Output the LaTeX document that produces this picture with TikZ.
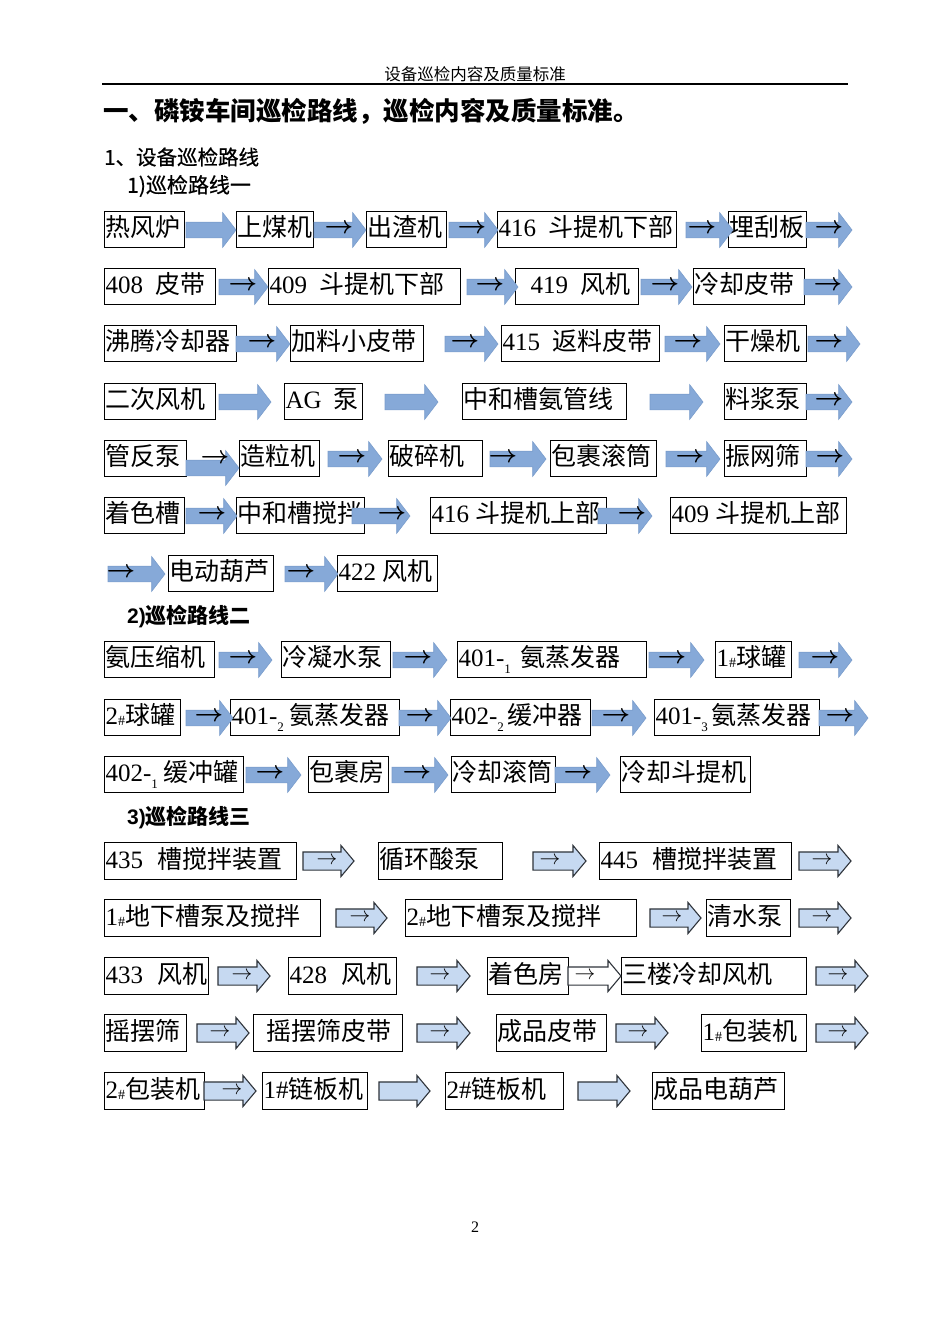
\documentclass[tikz,border=0pt]{standalone}
\usepackage{fontspec}
\setmainfont{Noto Sans CJK SC}
\newfontfamily\tnr{Liberation Serif}
\newfontfamily\ars{Liberation Sans}
\newfontfamily\cjkm[FakeBold=0.6]{Noto Sans CJK SC}
\usetikzlibrary{shapes.arrows}
\definecolor{aL}{HTML}{B7CFEE}
\definecolor{aD}{HTML}{86A9D8}
\definecolor{aE}{HTML}{7A9DCC}
\definecolor{bF}{HTML}{C6D9F1}
\definecolor{bE}{HTML}{2F343B}
\newcommand\nr[1]{{\tnr #1}}
\newcommand\sbn[1]{\raisebox{-7pt}{\fontsize{13}{13}\selectfont\tnr #1}}
\newcommand\shp{\raisebox{-1pt}{\fontsize{14}{14}\selectfont\tnr\#}}
\tikzset{
 bx/.style={draw=black, line width=0.9pt, fill=white, inner xsep=1.5pt, inner ysep=0pt, outer sep=0pt,
   font=\fontsize{25}{30}\selectfont, text height=19pt, text depth=5pt},
 arA/.style={single arrow, single arrow head extend=9.5pt, single arrow tip angle=105,
   inner xsep=0pt, inner ysep=7.5pt, outer sep=0pt, shading=axis, top color=aD, middle color=aL, bottom color=aD, draw=aE, line width=0.6pt},
 arB/.style={single arrow, single arrow head extend=6.5pt, single arrow tip angle=100,
   inner xsep=0pt, inner ysep=8.5pt, outer sep=0pt, fill=bF, draw=bE, line width=1.1pt},
 arW/.style={arB, fill=white},
 ra/.style={inner sep=0pt, font=\fontsize{25}{25}\selectfont\boldmath},
 rb/.style={inner sep=0pt, font=\fontsize{21}{21}\selectfont},
 hd/.style={anchor=west, inner sep=0pt},
}
\newcommand\bxx[6]{\pgfmathsetmacro\mytw{#4-#3-3}%
 \node[bx, minimum height=#1pt, anchor=west] (#2) at (#3,#5) {\makebox[\mytw pt][l]{#6}};}
\newcommand\arr[5]{\pgfmathsetmacro\myl{#4-#3}%
 \node[#1, minimum height=\myl pt, anchor=west] (#2) at (#3,#5) {};}
\newcommand\rt[4]{\node[#1] (#2) at (#3,#4) {$\rightarrow$};}
\begin{document}
\begin{tikzpicture}[x=1pt,y=-1pt]
\useasboundingbox[fill=white] (0,0) rectangle (950,1342);
% header
\node[inner sep=0pt, font=\fontsize{16.5}{18}\selectfont] (hdr) at (475,74) {设备巡检内容及质量标准};
\draw[line width=1.2pt] (102,84) -- (848,84);
\node[hd, font=\fontsize{25.5}{30}\selectfont\bfseries] (title) at (103,111) {一、磷铵车间巡检路线，巡检内容及质量标准。};
\node[hd, font=\fontsize{20.5}{24}\selectfont\cjkm] (h1) at (104,157) {1、设备巡检路线};
\node[hd, font=\fontsize{21}{24}\selectfont\cjkm] (rt1) at (127,186) {1)巡检路线一};
\node[hd, font=\fontsize{21}{24}\selectfont\bfseries] (rt2) at (127,617) {{\ars\bfseries 2)}巡检路线二};
\node[hd, font=\fontsize{21}{24}\selectfont\bfseries] (rt3) at (127,818) {{\ars\bfseries 3)}巡检路线三};
\node[inner sep=0pt, font=\fontsize{16}{16}\selectfont\tnr] (pg) at (475,1227) {2};
% ---------- route 1 boxes
\bxx{36}{b11}{104}{184}{229}{热风炉}
\bxx{36}{b12}{236}{313}{229}{上煤机}
\bxx{36}{b13}{366}{446}{229}{出渣机}
\bxx{36}{b14}{497}{676}{229}{\nr{416}\hspace{12pt}斗提机下部}
\bxx{36}{b15}{728}{806}{229}{埋刮板}
\bxx{36}{b21}{104}{215}{286}{\nr{408}\hspace{12pt}皮带}
\bxx{36}{b22}{268}{460}{286}{\nr{409}\hspace{12pt}斗提机下部}
\bxx{36}{b23}{515}{638}{286}{\hspace{14pt}\nr{419}\hspace{12pt}风机}
\bxx{36}{b24}{693}{804}{286}{冷却皮带}
\bxx{36}{b31}{104}{236}{343}{沸腾冷却器}
\bxx{36}{b32}{290}{423}{343}{加料小皮带}
\bxx{36}{b33}{501}{659}{343}{\nr{415}\hspace{12pt}返料皮带}
\bxx{36}{b34}{724}{806}{343}{干燥机}
\bxx{36}{b41}{104}{215}{401}{二次风机}
\bxx{36}{b42}{284}{362}{401}{\nr{AG}\hspace{12pt}泵}
\bxx{36}{b43}{462}{626}{401}{中和槽氨管线}
\bxx{36}{b44}{724}{806}{401}{料浆泵}
\bxx{36}{b51}{104}{186}{458}{管反泵}
\bxx{36}{b52}{239}{319}{458}{造粒机}
\bxx{36}{b53}{388}{482}{458}{破碎机}
\bxx{36}{b54}{550}{656}{458}{包裹滚筒}
\bxx{36}{b55}{724}{806}{458}{振网筛}
\bxx{36}{b61}{104}{184}{515}{着色槽}
\bxx{36}{b62}{236}{364}{515}{中和槽搅拌}
\bxx{36}{b63}{430}{606}{515}{\nr{416 }斗提机上部}
\bxx{36}{b64}{670}{846}{515}{\nr{409 }斗提机上部}
\bxx{36}{b71}{168}{273}{573}{电动葫芦}
\bxx{36}{b72}{337}{437}{573}{\nr{422 }风机}
% ---------- route 2 boxes
\bxx{36}{b81}{104}{214}{659}{氨压缩机}
\bxx{36}{b82}{281}{390}{659}{冷凝水泵}
\bxx{36}{b83}{457}{646}{659}{\nr{401-}\sbn{1}\hspace{10pt}氨蒸发器}
\bxx{36}{b84}{715}{791}{659}{\nr{1}\shp 球罐}
\bxx{36}{b91}{104}{180}{717}{\nr{2}\shp 球罐}
\bxx{36}{b92}{230}{399}{717}{\nr{401-}\sbn{2}\hspace{6pt}氨蒸发器}
\bxx{36}{b93}{450}{590}{717}{\nr{402-}\sbn{2}\hspace{4pt}缓冲器}
\bxx{36}{b94}{654}{819}{717}{\nr{401-}\sbn{3}\hspace{4pt}氨蒸发器}
\bxx{36}{b101}{104}{243}{774}{\nr{402-}\sbn{1}\hspace{6pt}缓冲罐}
\bxx{36}{b102}{308}{388}{774}{包裹房}
\bxx{36}{b103}{451}{555}{774}{冷却滚筒}
\bxx{36}{b104}{620}{750}{774}{冷却斗提机}
% ---------- route 3 boxes
\bxx{37}{b111}{104}{296}{861}{\nr{435}\hspace{14pt}槽搅拌装置}
\bxx{37}{b112}{378}{502}{861}{循环酸泵}
\bxx{37}{b113}{599}{791}{861}{\nr{445}\hspace{14pt}槽搅拌装置}
\bxx{37}{b121}{104}{320}{918}{\nr{1}\shp 地下槽泵及搅拌}
\bxx{37}{b122}{405}{636}{918}{\nr{2}\shp 地下槽泵及搅拌}
\bxx{37}{b123}{706}{790}{918}{清水泵}
\bxx{37}{b131}{104}{208}{976}{\nr{433}\hspace{14pt}风机}
\bxx{37}{b132}{288}{396}{976}{\nr{428}\hspace{14pt}风机}
\bxx{37}{b133}{487}{568}{976}{着色房}
\bxx{37}{b134}{621}{806}{976}{三楼冷却风机}
\bxx{37}{b141}{104}{186}{1033}{摇摆筛}
\bxx{37}{b142}{253}{402}{1033}{\hspace{12pt}摇摆筛皮带}
\bxx{37}{b143}{496}{606}{1033}{成品皮带}
\bxx{37}{b144}{701}{806}{1033}{\nr{1}\shp 包装机}
\bxx{37}{b151}{104}{204}{1091}{\nr{2}\shp 包装机}
\bxx{37}{b152}{262}{367}{1091}{\nr{1\#}链板机}
\bxx{37}{b153}{445}{563}{1091}{\nr{2\#}链板机}
\bxx{37}{b154}{652}{784}{1091}{成品电葫芦}
% ---------- route 1 arrows
\arr{arA}{a11}{186}{236}{230}
\arr{arA}{a12}{314}{366}{230}\rt{ra}{t12}{339}{229}
\arr{arA}{a13}{449}{498}{230}\rt{ra}{t13}{472}{229}
\arr{arA}{a14}{686}{733}{230}\rt{ra}{t14}{702}{229}
\arr{arA}{a15}{806}{852}{230}\rt{ra}{t15}{829}{229}
\arr{arA}{a21}{219}{268}{287}\rt{ra}{t21}{243}{286}
\arr{arA}{a22}{467}{518}{287}\rt{ra}{t22}{490}{286}
\arr{arA}{a23}{641}{692}{287}\rt{ra}{t23}{665}{286}
\arr{arA}{a24}{804}{852}{287}\rt{ra}{t24}{828}{286}
\arr{arA}{a31}{236}{290}{344}\rt{ra}{t31}{262}{343}
\arr{arA}{a32}{445}{498}{344}\rt{ra}{t32}{465}{343}
\arr{arA}{a33}{665}{720}{344}\rt{ra}{t33}{688}{343}
\arr{arA}{a34}{808}{860}{344}\rt{ra}{t34}{829}{343}
\arr{arA}{a41}{219}{271}{402}
\arr{arA}{a42}{385}{438}{402}
\arr{arA}{a43}{650}{703}{402}
\arr{arA}{a44}{806}{852}{402}\rt{ra}{t44}{829}{401}
\arr{arA}{a51}{186}{239}{468}\rt{ra}{t51}{215}{459}
\arr{arA}{a52}{328}{382}{459}\rt{ra}{t52}{352}{458}
\arr{arA}{a53}{490}{546}{459}\rt{ra}{t53}{503}{458}
\arr{arA}{a54}{666}{720}{459}\rt{ra}{t54}{690}{458}
\arr{arA}{a55}{806}{852}{459}\rt{ra}{t55}{830}{458}
\arr{arA}{a61}{186}{237}{516}\rt{ra}{t61}{212}{515}
\arr{arA}{a62}{352}{410}{516}\rt{ra}{t62}{392}{515}
\arr{arA}{a63}{598}{652}{516}\rt{ra}{t63}{632}{515}
\arr{arA}{a70}{108}{165}{574}\rt{ra}{t70}{121}{573}
\arr{arA}{a71}{285}{338}{574}\rt{ra}{t71}{301}{573}
% ---------- route 2 arrows
\arr{arA}{a81}{219}{272}{660}\rt{ra}{t81}{243}{659}
\arr{arA}{a82}{393}{447}{660}\rt{ra}{t82}{418}{659}
\arr{arA}{a83}{649}{704}{660}\rt{ra}{t83}{672}{659}
\arr{arA}{a84}{799}{852}{660}\rt{ra}{t84}{825}{659}
\arr{arA}{a91}{186}{233}{718}\rt{ra}{t91}{209}{717}
\arr{arA}{a92}{399}{451}{718}\rt{ra}{t92}{420}{717}
\arr{arA}{a93}{592}{646}{718}\rt{ra}{t93}{616}{717}
\arr{arA}{a94}{819}{868}{718}\rt{ra}{t94}{840}{717}
\arr{arA}{a101}{246}{301}{775}\rt{ra}{t101}{270}{774}
\arr{arA}{a102}{392}{448}{775}\rt{ra}{t102}{417}{774}
\arr{arA}{a103}{555}{610}{775}\rt{ra}{t103}{578}{774}
% ---------- route 3 arrows
\arr{arB}{a111}{303}{354}{861}\rt{rb}{t111}{327}{861}
\arr{arB}{a112}{533}{586}{861}\rt{rb}{t112}{550}{861}
\arr{arB}{a113}{799}{851}{861}\rt{rb}{t113}{822}{861}
\arr{arB}{a121}{336}{387}{918}\rt{rb}{t121}{360}{918}
\arr{arB}{a122}{650}{701}{918}\rt{rb}{t122}{672}{918}
\arr{arB}{a123}{799}{851}{918}\rt{rb}{t123}{822}{918}
\arr{arB}{a131}{218}{270}{976}\rt{rb}{t131}{242}{976}
\arr{arB}{a132}{417}{470}{976}\rt{rb}{t132}{440}{976}
\arr{arW}{a133}{568}{621}{976}\rt{rb}{t133}{585}{976}
\arr{arB}{a134}{816}{868}{976}\rt{rb}{t134}{838}{976}
\arr{arB}{a141}{197}{249}{1033}\rt{rb}{t141}{220}{1033}
\arr{arB}{a142}{417}{470}{1033}\rt{rb}{t142}{440}{1033}
\arr{arB}{a143}{616}{668}{1033}\rt{rb}{t143}{638}{1033}
\arr{arB}{a144}{816}{868}{1033}\rt{rb}{t144}{838}{1033}
\arr{arB}{a151}{204}{256}{1091}\rt{rb}{t151}{232}{1091}
\arr{arB}{a152}{379}{430}{1091}
\arr{arB}{a153}{578}{630}{1091}
\end{tikzpicture}
\end{document}
